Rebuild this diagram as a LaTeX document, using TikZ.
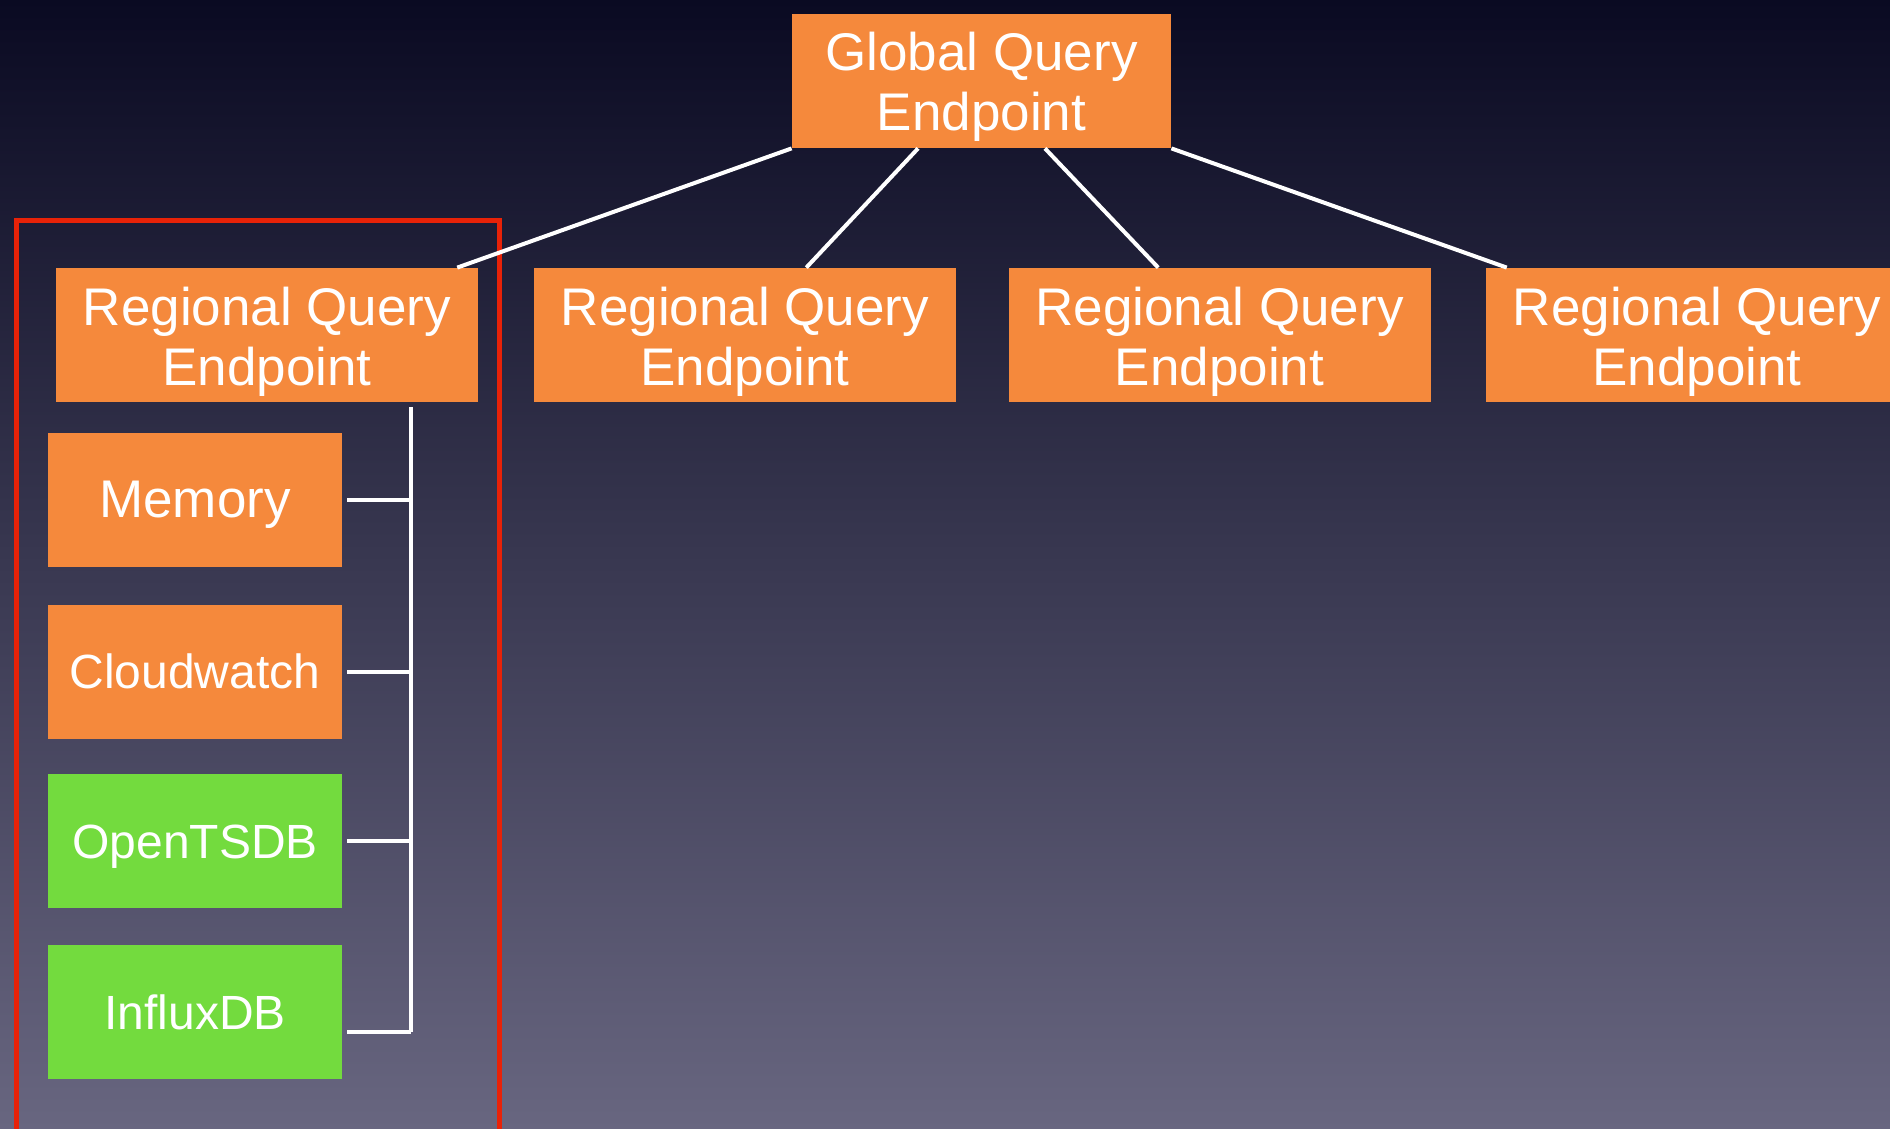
\documentclass[tikz,border=0pt]{standalone}
\usepackage{fontspec}
\setmainfont{Liberation Sans}
\usetikzlibrary{calc}
\definecolor{boxorange}{RGB}{245,137,60}
\definecolor{boxgreen}{RGB}{115,219,62}
\definecolor{framered}{RGB}{232,34,8}
\definecolor{bgtop}{RGB}{10,10,34}
\definecolor{bgmid}{RGB}{56,54,100}
\definecolor{bgbot}{RGB}{104,102,128}
\tikzset{
	endpoint/.style={fill=boxorange, text=white, inner sep=0pt, minimum height=67pt, align=center, font=\fontsize{26.5}{30}\selectfont, text height=55pt, text depth=5pt},
	regional/.style={endpoint, minimum width=211pt},
	store/.style={endpoint, minimum width=147pt, text height=23pt, text depth=6pt},
	small/.style={font=\fontsize{24}{28}\selectfont},
	link/.style={draw=white, line width=2pt}
}
\begin{document}
\begin{tikzpicture}[x=0.5pt,y=-0.5pt]
	\useasboundingbox (0,0) rectangle (1890,1129);
	\clip (0,0) rectangle (1890,1129);
	\shade[top color=bgtop, middle color=bgmid, bottom color=bgbot] (0,0) rectangle (1890,1129);
	
	\node[endpoint, minimum width=189.5pt] (glob) at (981.5,81) {Global Query\\Endpoint};
	\node[regional] (reg1) at (267,335) {Regional Query\\Endpoint};
	\node[regional] (reg2) at (745,335) {Regional Query\\Endpoint};
	\node[regional] (reg3) at (1219.5,335) {Regional Query\\Endpoint};
	\node[regional] (reg4) at (1697,335) {Regional Query\\Endpoint};
	
	\node[store] (mem) at (195,500) {Memory};
	\node[store, small] (cw) at (195,671.5) {Cloudwatch};
	\node[store, small, fill=boxgreen] (tsdb) at (195,841) {OpenTSDB};
	\node[store, small, fill=boxgreen] (influx) at (195,1012) {InfluxDB};
	
	\draw[framered, line width=2.5pt] (16,220) rectangle (499,1160);
	
	\draw[link] (glob.south west) -- ($(reg1.north west)!0.95!(reg1.north east)$);
	\draw[link] ($(glob.south west)!0.333!(glob.south east)$) -- ($(reg2.north west)!0.645!(reg2.north east)$);
	\draw[link] ($(glob.south west)!0.667!(glob.south east)$) -- ($(reg3.north west)!0.355!(reg3.north east)$);
	\draw[link] (glob.south east) -- ($(reg4.north west)!0.05!(reg4.north east)$);
	
	\coordinate (bustop) at (411,407);
	\coordinate (busbot) at (411,1032);
	\draw[link] (bustop) -- (busbot);
	\foreach \s in {mem,cw,tsdb}
		\draw[link] ([xshift=2.5pt]\s.east) -- (\s.east -| bustop);
	\draw[link] ([xshift=2.5pt]influx.east |- busbot) -- (busbot);
\end{tikzpicture}
\end{document}
